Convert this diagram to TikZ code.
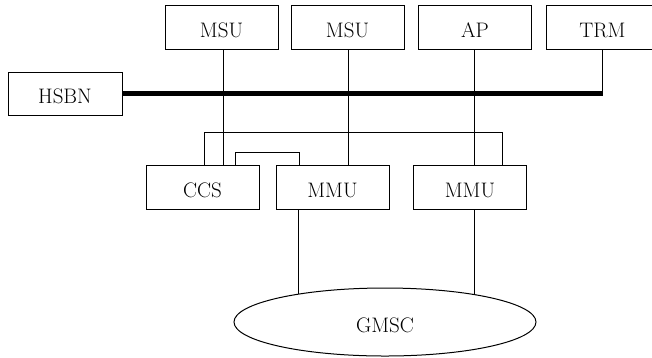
\documentclass[tikz,border=0pt]{standalone}
\usepackage{tikz}
\usetikzlibrary{shapes.geometric}

\tikzset{
    label font/.style={font=\fontsize{21}{25}\selectfont, text height=20pt, text depth=0pt},
    unit/.style={draw, line width=1pt, minimum width=113pt, minimum height=44pt, inner sep=0pt, label font},
    wire/.style={line width=1pt},
    bus/.style={line width=5.5pt}
}

\begin{document}
\begin{tikzpicture}[x=1pt, y=-1pt]
    \useasboundingbox (0,0) rectangle (652,357);

    % draw top units
    \node[unit] (msua) at (221.5,27) {MSU};
    \node[unit] (msub) at (347.5,27) {MSU};
    \node[unit] (ap)   at (475,27.5) {AP};
    \node[unit] (trm)  at (602.5,27.5) {TRM};
    \node[unit, minimum width=114pt, minimum height=43pt] (hsbn) at (65,93.5) {HSBN};

    % draw lower units
    \node[unit] (ccs)  at (202.5,187.5) {CCS};
    \node[unit] (mmua) at (332.5,187.5) {MMU};
    \node[unit] (mmub) at (470,187.5) {MMU};
    \node[ellipse, draw, line width=1pt, minimum width=302pt, minimum height=68pt, inner sep=0pt, label font] (gmsc) at (385,322) {GMSC};

    % draw bus
    \draw[bus] (hsbn.east) -- (hsbn.east -| trm.south);
    \draw[wire] (trm.south) -- (trm.south |- hsbn.east);

    % draw vertical links through the bus
    \draw[wire] ([xshift=1.5pt]msua.south) -- ([xshift=1.5pt]msua.south |- ccs.north);
    \draw[wire] ([xshift=0.5pt]msub.south) -- ([xshift=0.5pt]msub.south |- mmua.north);
    \draw[wire] ([xshift=-1pt]ap.south) -- ([xshift=-1pt]ap.south |- mmub.north);

    % draw cross links
    \draw[wire] ([xshift=1.5pt]ccs.north) -- ++(0,-33) -| ([xshift=32pt]mmub.north);
    \draw[wire] ([xshift=32.5pt]ccs.north) -- ++(0,-13) -| ([xshift=-33.5pt]mmua.north);

    % draw links to GMSC
    \draw[wire] ([xshift=-34.5pt]mmua.south) -- ([xshift=-34.5pt]mmua.south |- gmsc.162);
    \draw[wire] ([xshift=4pt]mmub.south) -- ([xshift=4pt]mmub.south |- gmsc.18);
\end{tikzpicture}
\end{document}
